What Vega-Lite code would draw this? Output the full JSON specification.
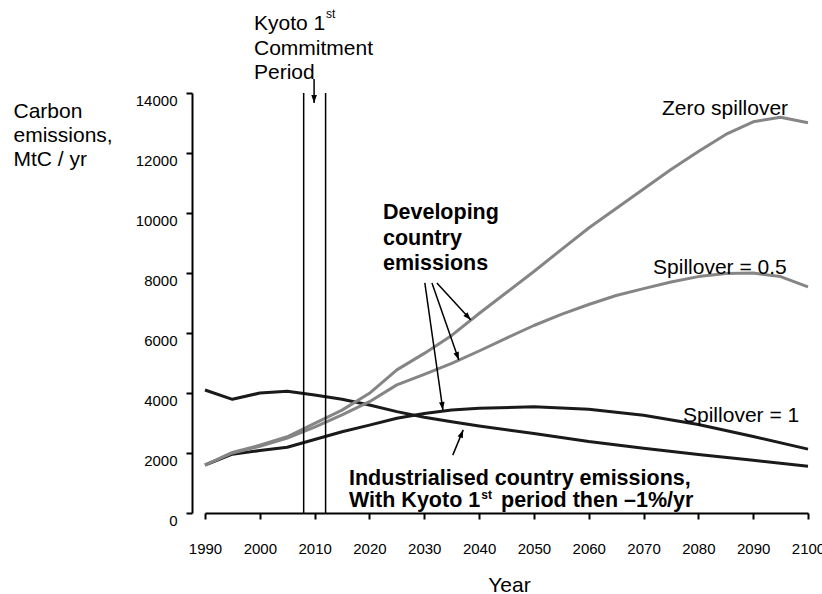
{
  "$schema": "https://vega.github.io/schema/vega-lite/v6.json",
  "width": 603,
  "height": 420,
  "autosize": {"type": "none"},
  "padding": {"left": 205, "top": 93, "right": 14, "bottom": 81},
  "background": "white",
  "config": {
    "view": {"stroke": null},
    "font": "Liberation Sans",
    "axis": {"grid": false, "domainColor": "black", "tickColor": "black", "labelColor": "black", "titleColor": "black", "domainWidth": 2, "tickWidth": 2, "tickSize": 6, "labelFont": "Liberation Sans", "titleFont": "Liberation Sans", "labelFontSize": 15, "titleFontSize": 21, "titleFontWeight": "normal", "labelFlush": false, "labelOverlap": false, "labelBound": false}
  },
  "layer": [
    {
      "data": {"values": [
        {"series": "Industrialised", "year": 1990, "value": 4100},
        {"series": "Industrialised", "year": 1995, "value": 3790},
        {"series": "Industrialised", "year": 2000, "value": 4000},
        {"series": "Industrialised", "year": 2005, "value": 4060},
        {"series": "Industrialised", "year": 2010, "value": 3930},
        {"series": "Industrialised", "year": 2015, "value": 3790},
        {"series": "Industrialised", "year": 2020, "value": 3600},
        {"series": "Industrialised", "year": 2025, "value": 3380},
        {"series": "Industrialised", "year": 2030, "value": 3190},
        {"series": "Industrialised", "year": 2035, "value": 3040},
        {"series": "Industrialised", "year": 2040, "value": 2900},
        {"series": "Industrialised", "year": 2050, "value": 2650},
        {"series": "Industrialised", "year": 2060, "value": 2380},
        {"series": "Industrialised", "year": 2070, "value": 2160},
        {"series": "Industrialised", "year": 2080, "value": 1950},
        {"series": "Industrialised", "year": 2090, "value": 1760},
        {"series": "Industrialised", "year": 2100, "value": 1560},
        {"series": "Spillover = 1", "year": 1990, "value": 1600},
        {"series": "Spillover = 1", "year": 1995, "value": 1960},
        {"series": "Spillover = 1", "year": 2000, "value": 2080},
        {"series": "Spillover = 1", "year": 2005, "value": 2190},
        {"series": "Spillover = 1", "year": 2010, "value": 2450},
        {"series": "Spillover = 1", "year": 2015, "value": 2710},
        {"series": "Spillover = 1", "year": 2020, "value": 2930},
        {"series": "Spillover = 1", "year": 2025, "value": 3160},
        {"series": "Spillover = 1", "year": 2030, "value": 3320},
        {"series": "Spillover = 1", "year": 2035, "value": 3430},
        {"series": "Spillover = 1", "year": 2040, "value": 3490},
        {"series": "Spillover = 1", "year": 2050, "value": 3540},
        {"series": "Spillover = 1", "year": 2060, "value": 3460},
        {"series": "Spillover = 1", "year": 2070, "value": 3260},
        {"series": "Spillover = 1", "year": 2080, "value": 2950},
        {"series": "Spillover = 1", "year": 2090, "value": 2550},
        {"series": "Spillover = 1", "year": 2100, "value": 2130},
        {"series": "Zero spillover", "year": 1990, "value": 1600},
        {"series": "Zero spillover", "year": 1995, "value": 2020},
        {"series": "Zero spillover", "year": 2000, "value": 2260},
        {"series": "Zero spillover", "year": 2005, "value": 2540},
        {"series": "Zero spillover", "year": 2010, "value": 2990},
        {"series": "Zero spillover", "year": 2015, "value": 3430},
        {"series": "Zero spillover", "year": 2020, "value": 3990},
        {"series": "Zero spillover", "year": 2025, "value": 4770},
        {"series": "Zero spillover", "year": 2030, "value": 5320},
        {"series": "Zero spillover", "year": 2035, "value": 5920},
        {"series": "Zero spillover", "year": 2040, "value": 6650},
        {"series": "Zero spillover", "year": 2045, "value": 7350},
        {"series": "Zero spillover", "year": 2050, "value": 8050},
        {"series": "Zero spillover", "year": 2055, "value": 8780},
        {"series": "Zero spillover", "year": 2060, "value": 9500},
        {"series": "Zero spillover", "year": 2065, "value": 10150},
        {"series": "Zero spillover", "year": 2070, "value": 10800},
        {"series": "Zero spillover", "year": 2075, "value": 11450},
        {"series": "Zero spillover", "year": 2080, "value": 12050},
        {"series": "Zero spillover", "year": 2085, "value": 12620},
        {"series": "Zero spillover", "year": 2090, "value": 13040},
        {"series": "Zero spillover", "year": 2095, "value": 13190},
        {"series": "Zero spillover", "year": 2100, "value": 13010},
        {"series": "Spillover = 0.5", "year": 1990, "value": 1600},
        {"series": "Spillover = 0.5", "year": 1995, "value": 2000},
        {"series": "Spillover = 0.5", "year": 2000, "value": 2220},
        {"series": "Spillover = 0.5", "year": 2005, "value": 2500},
        {"series": "Spillover = 0.5", "year": 2010, "value": 2860},
        {"series": "Spillover = 0.5", "year": 2015, "value": 3270},
        {"series": "Spillover = 0.5", "year": 2020, "value": 3710},
        {"series": "Spillover = 0.5", "year": 2025, "value": 4270},
        {"series": "Spillover = 0.5", "year": 2030, "value": 4620},
        {"series": "Spillover = 0.5", "year": 2035, "value": 4990},
        {"series": "Spillover = 0.5", "year": 2040, "value": 5400},
        {"series": "Spillover = 0.5", "year": 2045, "value": 5830},
        {"series": "Spillover = 0.5", "year": 2050, "value": 6250},
        {"series": "Spillover = 0.5", "year": 2055, "value": 6620},
        {"series": "Spillover = 0.5", "year": 2060, "value": 6950},
        {"series": "Spillover = 0.5", "year": 2065, "value": 7250},
        {"series": "Spillover = 0.5", "year": 2070, "value": 7480},
        {"series": "Spillover = 0.5", "year": 2075, "value": 7700},
        {"series": "Spillover = 0.5", "year": 2080, "value": 7880},
        {"series": "Spillover = 0.5", "year": 2085, "value": 7980},
        {"series": "Spillover = 0.5", "year": 2090, "value": 8000},
        {"series": "Spillover = 0.5", "year": 2095, "value": 7880},
        {"series": "Spillover = 0.5", "year": 2100, "value": 7540}
      ]},
      "mark": {"type": "line", "strokeWidth": 3, "strokeJoin": "round"},
      "encoding": {
        "x": {"field": "year", "type": "quantitative", "scale": {"domain": [1990, 2100], "nice": false, "zero": false},
          "axis": {"values": [1990, 2000, 2010, 2020, 2030, 2040, 2050, 2060, 2070, 2080, 2090, 2100], "format": "d", "labelBaseline": "alphabetic", "labelPadding": 34, "title": "Year", "titleX": 304, "titleY": 78, "titleAlign": "center", "titleBaseline": "alphabetic"}},
        "y": {"field": "value", "type": "quantitative", "scale": {"domain": [0, 14000], "nice": false},
          "axis": {"values": [0, 2000, 4000, 6000, 8000, 10000, 12000, 14000], "format": "d", "offset": 13, "labelPadding": 9, "labelOffset": 7, "title": ["Carbon", "emissions,", "MtC / yr"], "titleAngle": 0, "titleAlign": "left", "titleBaseline": "alphabetic", "titleX": -179, "titleY": 24, "titleLineHeight": 24}},
        "color": {"field": "series", "type": "nominal", "legend": null,
          "scale": {"domain": ["Industrialised", "Spillover = 1", "Zero spillover", "Spillover = 0.5"], "range": ["#1a1a1a", "#1a1a1a", "#858585", "#858585"]}}
      }
    },
    {
      "data": {"values": [{"year": 2008}, {"year": 2012}]},
      "mark": {"type": "rule", "color": "black", "strokeWidth": 1.5},
      "encoding": {"x": {"field": "year", "type": "quantitative"}, "y": {"datum": 0}, "y2": {"datum": 14000}}
    },
    {
      "data": {"values": [
        {"year": 2009.9, "value": 14470, "year2": 2009.9, "value2": 13670},
        {"year": 2032.3, "value": 7670, "year2": 2038.5, "value2": 6430},
        {"year": 2031.4, "value": 7670, "year2": 2036.3, "value2": 5100},
        {"year": 2030.1, "value": 7670, "year2": 2033.4, "value2": 3430},
        {"year": 2035.2, "value": 1930, "year2": 2037.1, "value2": 2770}
      ]},
      "mark": {"type": "rule", "color": "black", "strokeWidth": 1.5},
      "encoding": {"x": {"field": "year", "type": "quantitative"}, "y": {"field": "value", "type": "quantitative"}, "x2": {"field": "year2"}, "y2": {"field": "value2"}}
    },
    {
      "data": {"values": [{"year": 2009.9, "value": 13670}]},
      "mark": {"type": "point", "shape": "M0,0 L-0.35,1 L0.35,1 Z", "filled": true, "color": "black", "opacity": 1, "size": 256, "angle": 180},
      "encoding": {"x": {"field": "year", "type": "quantitative"}, "y": {"field": "value", "type": "quantitative"}}
    },
    {
      "data": {"values": [{"year": 2038.5, "value": 6430}]},
      "mark": {"type": "point", "shape": "M0,0 L-0.35,1 L0.35,1 Z", "filled": true, "color": "black", "opacity": 1, "size": 256, "angle": 137.4},
      "encoding": {"x": {"field": "year", "type": "quantitative"}, "y": {"field": "value", "type": "quantitative"}}
    },
    {
      "data": {"values": [{"year": 2036.3, "value": 5100}]},
      "mark": {"type": "point", "shape": "M0,0 L-0.35,1 L0.35,1 Z", "filled": true, "color": "black", "opacity": 1, "size": 256, "angle": 160.7},
      "encoding": {"x": {"field": "year", "type": "quantitative"}, "y": {"field": "value", "type": "quantitative"}}
    },
    {
      "data": {"values": [{"year": 2033.4, "value": 3430}]},
      "mark": {"type": "point", "shape": "M0,0 L-0.35,1 L0.35,1 Z", "filled": true, "color": "black", "opacity": 1, "size": 256, "angle": 171.9},
      "encoding": {"x": {"field": "year", "type": "quantitative"}, "y": {"field": "value", "type": "quantitative"}}
    },
    {
      "data": {"values": [{"year": 2037.1, "value": 2770}]},
      "mark": {"type": "point", "shape": "M0,0 L-0.35,1 L0.35,1 Z", "filled": true, "color": "black", "opacity": 1, "size": 256, "angle": 21.8},
      "encoding": {"x": {"field": "year", "type": "quantitative"}, "y": {"field": "value", "type": "quantitative"}}
    },
    {
      "data": {"values": [
        {"label": "Kyoto 1", "year": 1998.94, "value": 16100},
        {"label": "Commitment", "year": 1998.94, "value": 15270},
        {"label": "Period", "year": 1998.94, "value": 14470},
        {"label": "Zero spillover", "year": 2073.37, "value": 13270},
        {"label": "Spillover = 0.5", "year": 2071.73, "value": 7970},
        {"label": "Spillover = 1", "year": 2077.2, "value": 3030}
      ]},
      "mark": {"type": "text", "align": "left", "baseline": "alphabetic", "fontSize": 21, "font": "Liberation Sans", "color": "black"},
      "encoding": {"x": {"field": "year", "type": "quantitative"}, "y": {"field": "value", "type": "quantitative"}, "text": {"field": "label"}}
    },
    {
      "data": {"values": [
        {"label": "Developing", "year": 2022.47, "value": 9800},
        {"label": "country", "year": 2022.47, "value": 8930},
        {"label": "emissions", "year": 2022.47, "value": 8100},
        {"label": "Industrialised country emissions,", "year": 2016.27, "value": 930},
        {"label": "With Kyoto 1", "year": 2016.27, "value": 200},
        {"label": "period then \u20131%/yr", "year": 2044.0, "value": 200}
      ]},
      "mark": {"type": "text", "align": "left", "baseline": "alphabetic", "fontSize": 21.5, "fontWeight": "bold", "font": "Liberation Sans", "color": "black"},
      "encoding": {"x": {"field": "year", "type": "quantitative"}, "y": {"field": "value", "type": "quantitative"}, "text": {"field": "label"}}
    },
    {
      "data": {"values": [{"label": "st", "year": 2012.07, "value": 16500}]},
      "mark": {"type": "text", "align": "left", "baseline": "alphabetic", "fontSize": 12, "font": "Liberation Sans", "color": "black"},
      "encoding": {"x": {"field": "year", "type": "quantitative"}, "y": {"field": "value", "type": "quantitative"}, "text": {"field": "label"}}
    },
    {
      "data": {"values": [{"label": "st", "year": 2040.4, "value": 480}]},
      "mark": {"type": "text", "align": "left", "baseline": "alphabetic", "fontSize": 12, "fontWeight": "bold", "font": "Liberation Sans", "color": "black"},
      "encoding": {"x": {"field": "year", "type": "quantitative"}, "y": {"field": "value", "type": "quantitative"}, "text": {"field": "label"}}
    }
  ]
}
